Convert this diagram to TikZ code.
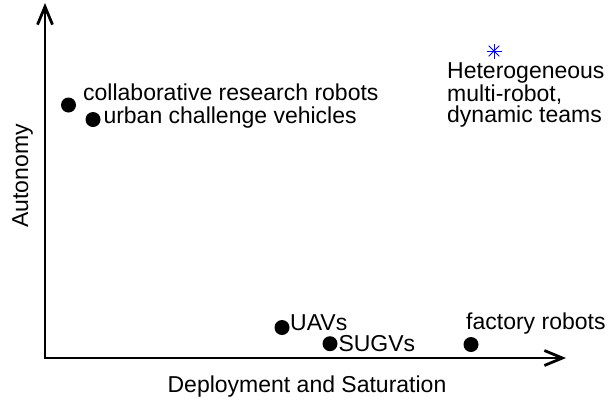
\documentclass[tikz,border=0pt]{standalone}
\usepackage{fontspec}
\setmainfont{Liberation Sans}
\usetikzlibrary{arrows.meta}

\begin{document}
\begin{tikzpicture}[x=1pt, y=-1pt,
  dot/.style={circle, fill=black, inner sep=0pt, minimum size=15pt},
  lbl/.style={anchor=base west, inner sep=0pt, font=\fontsize{23}{19.5}\selectfont},
  axis/.style={line width=2.8pt, {Straight Barb[length=18pt,width=15pt]}-{Straight Barb[length=18pt,width=15pt]}}]
  \useasboundingbox (0,0) rectangle (609,400);
  % axes
  \coordinate (origin) at (45,358);
  \coordinate (xend) at (566,358);
  \coordinate (yend) at (45,3);
  \draw[axis] (yend) -- (origin) -- (xend);
  \node[lbl, anchor=base] (xlab) at (307,392) {Deployment and Saturation};
  \node[lbl, anchor=base, rotate=90] (ylab) at (28,176) {Autonomy};
  % robot classes
  \node[dot] (collab) at (68.5,105) {};
  \node[dot] (urban) at (93,119.5) {};
  \node[dot] (uav) at (282,327.5) {};
  \node[dot] (sugv) at (330,343.7) {};
  \node[dot] (factory) at (471,344.5) {};
  \node[lbl] (collabtxt) at (83,100.7) {collaborative research robots};
  \node[lbl] (urbantxt) at (103.3,123) {urban challenge vehicles};
  \node[lbl] (uavtxt) at (290,330) {UAVs};
  \node[lbl] (sugvtxt) at (338.3,351) {SUGVs};
  \node[lbl] (factorytxt) at (466,329) {factory robots};
  % target
  \coordinate (hetstar) at (494,51);
  \foreach \a in {0,45,90,135}
    \draw[blue, line width=0.8pt] (hetstar) ++(\a:7.5) -- ++(\a+180:15);
  \node[lbl, align=left] (hettxt) at (447,122) {Heterogeneous\\multi-robot,\\dynamic teams};
\end{tikzpicture}
\end{document}
